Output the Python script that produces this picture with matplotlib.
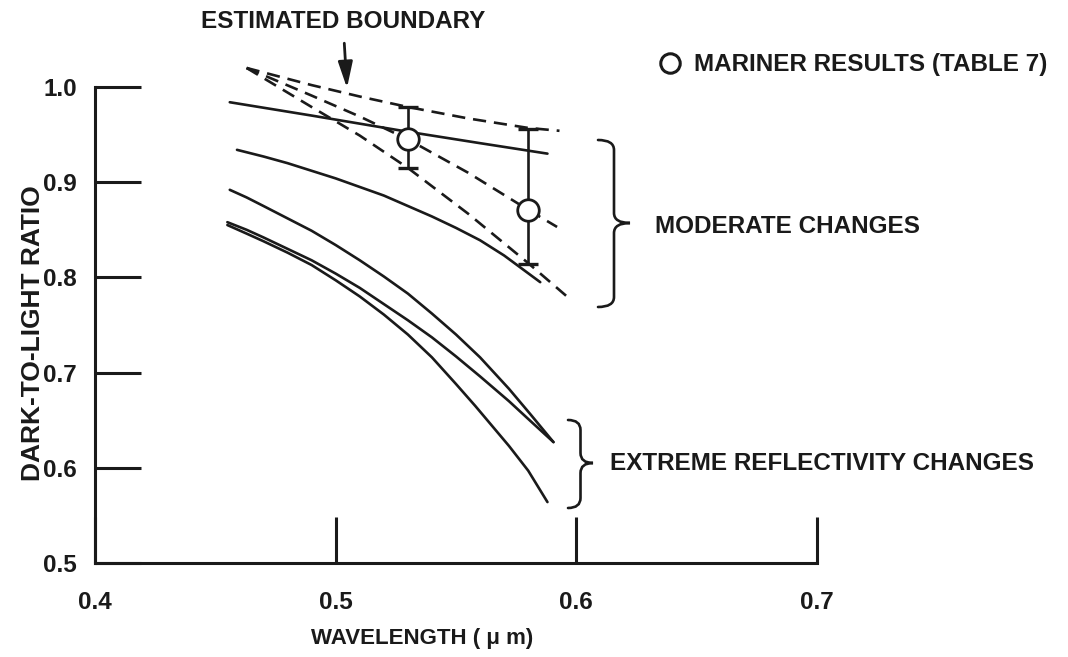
import matplotlib
matplotlib.use("Agg")
import matplotlib.pyplot as plt
from matplotlib.path import Path
from matplotlib.patches import PathPatch
from matplotlib.lines import Line2D

plt.rcParams['font.family'] = ['Liberation Sans', 'DejaVu Sans']
plt.rcParams['font.weight'] = 'bold'

# ---- data (wavelength in micrometres, dark-to-light ratio) ----
wl_bound_upper = [0.463, 0.49, 0.51, 0.53, 0.555, 0.58, 0.593]
r_bound_upper = [1.020, 1.002, 0.990, 0.979, 0.967, 0.957, 0.954]

wl_bound_mid = [0.463, 0.49, 0.51, 0.53, 0.555, 0.58, 0.592]
r_bound_mid = [1.020, 0.991, 0.969, 0.945, 0.910, 0.871, 0.853]

wl_bound_lower = [0.463, 0.49, 0.51, 0.53, 0.555, 0.58, 0.597]
r_bound_lower = [1.020, 0.979, 0.949, 0.915, 0.867, 0.815, 0.778]

wl_mod_top = [0.456, 0.49, 0.53, 0.56, 0.588]
r_mod_top = [0.984, 0.970, 0.953, 0.941, 0.930]

wl_mod_low = [0.459, 0.47, 0.48, 0.49, 0.50, 0.51, 0.52, 0.53, 0.54, 0.55,
              0.56, 0.57, 0.585]
r_mod_low = [0.934, 0.927, 0.920, 0.912, 0.904, 0.895, 0.886, 0.875, 0.864,
             0.852, 0.839, 0.823, 0.795]

wl_ext1 = [0.456, 0.463, 0.47, 0.48, 0.49, 0.50, 0.51, 0.52, 0.53, 0.54,
           0.55, 0.56, 0.572, 0.581, 0.5905]
r_ext1 = [0.892, 0.884, 0.875, 0.862, 0.849, 0.834, 0.818, 0.801, 0.783,
          0.762, 0.740, 0.716, 0.683, 0.656, 0.627]

wl_ext2 = [0.455, 0.463, 0.47, 0.48, 0.49, 0.50, 0.51, 0.52, 0.53, 0.54,
           0.55, 0.56, 0.572, 0.581, 0.5905]
r_ext2 = [0.858, 0.850, 0.842, 0.830, 0.818, 0.804, 0.789, 0.772, 0.755,
          0.737, 0.717, 0.696, 0.670, 0.649, 0.627]

wl_ext3 = [0.455, 0.463, 0.47, 0.48, 0.49, 0.50, 0.51, 0.52, 0.53, 0.54,
           0.55, 0.558, 0.565, 0.572, 0.58, 0.588]
r_ext3 = [0.855, 0.846, 0.838, 0.826, 0.813, 0.797, 0.780, 0.761, 0.740,
          0.716, 0.688, 0.665, 0.644, 0.623, 0.597, 0.564]

wl_mariner = [0.53, 0.58]
r_mariner = [0.945, 0.871]
r_mariner_low = [0.915, 0.814]
r_mariner_high = [0.979, 0.956]

xticks = [0.4, 0.5, 0.6, 0.7]
xtick_labels = ['0.4', '0.5', '0.6', '0.7']
yticks = [0.5, 0.6, 0.7, 0.8, 0.9, 1.0]
ytick_labels = ['0.5', '0.6', '0.7', '0.8', '0.9', '1.0']

# ---- figure ----
W, H = 1068, 657
FS = 17.5
fig = plt.figure(figsize=(W / 100, H / 100), dpi=100)
ax = fig.add_axes([95 / W, (H - 563) / H, 722 / W, 476 / H])
ax.set_xlim(0.4, 0.7)
ax.set_ylim(0.5, 1.0)

LW = 1.9
ink = '#1a1a1a'
dash = (0, (5, 3))

for x, y in [(wl_bound_upper, r_bound_upper), (wl_bound_mid, r_bound_mid),
             (wl_bound_lower, r_bound_lower)]:
    ax.plot(x, y, color=ink, lw=LW, linestyle=dash, clip_on=False)

for x, y in [(wl_mod_top, r_mod_top), (wl_mod_low, r_mod_low),
             (wl_ext1, r_ext1), (wl_ext2, r_ext2), (wl_ext3, r_ext3)]:
    ax.plot(x, y, color=ink, lw=LW, solid_capstyle='round',
            solid_joinstyle='round', clip_on=False)

yerr = [[m - l for m, l in zip(r_mariner, r_mariner_low)],
        [h - m for m, h in zip(r_mariner, r_mariner_high)]]
ax.errorbar(wl_mariner, r_mariner, yerr=yerr, fmt='none', ecolor=ink,
            elinewidth=LW, capsize=7, capthick=2.4, clip_on=False, zorder=3)
ax.plot(wl_mariner, r_mariner, 'o', ms=15.5, mfc='white', mec=ink, mew=2.0,
        zorder=4, clip_on=False)

# axes styling
for s in ['top', 'right']:
    ax.spines[s].set_visible(False)
for s in ['left', 'bottom']:
    ax.spines[s].set_linewidth(2.2)
    ax.spines[s].set_color(ink)
ax.set_xticks(xticks)
ax.set_xticklabels(xtick_labels)
ax.set_yticks(yticks)
ax.set_yticklabels(ytick_labels)
ax.tick_params(axis='both', direction='in', length=33, width=2.2, color=ink,
               labelsize=FS, labelcolor=ink)
ax.tick_params(axis='x', pad=20)
ax.tick_params(axis='y', pad=13)

ax.set_xlabel('WAVELENGTH ( \u03bc m)', fontsize=16, fontweight='bold',
              color=ink)
ax.set_ylabel('DARK-TO-LIGHT RATIO', fontsize=19, fontweight='bold',
              color=ink)
ax.xaxis.set_label_coords((422 - 95) / 722, -(628 - 563) / 476)
ax.yaxis.set_label_coords(-(95 - 45) / 722, (563 - 333) / 476)


def px(xp, yp):
    return (xp / W, 1 - yp / H)


# braces (figure pixel coordinates)
def brace(x0, x1, ytop, ybot, ytip):
    xm = (x0 + x1) / 2
    d = 10
    verts = [px(x0, ytop), px(xm, ytop), px(xm, ytop + d),
             px(xm, ytip - d), px(xm, ytip), px(x1, ytip),
             px(xm, ytip), px(xm, ytip + d),
             px(xm, ybot - d), px(xm, ybot), px(x0, ybot)]
    codes = [Path.MOVETO, Path.CURVE3, Path.CURVE3,
             Path.LINETO, Path.CURVE3, Path.CURVE3,
             Path.CURVE3, Path.CURVE3,
             Path.LINETO, Path.CURVE3, Path.CURVE3]
    p = PathPatch(Path(verts, codes), transform=fig.transFigure, fill=False,
                  lw=LW, edgecolor=ink, capstyle='round')
    fig.add_artist(p)


brace(598, 630, 140, 307, 223)
brace(568, 593, 420, 508, 463)

fig.text(655 / W, 1 - 227 / H, 'MODERATE CHANGES', fontsize=FS,
         fontweight='bold', va='center', ha='left', color=ink)
fig.text(610 / W, 1 - 463 / H, 'EXTREME REFLECTIVITY CHANGES', fontsize=FS,
         fontweight='bold', va='center', ha='left', color=ink)

# legend-like annotation
fig.add_artist(Line2D([670 / W], [1 - 63 / H], marker='o', ms=14, mfc='white',
                      mec=ink, mew=2.2, transform=fig.transFigure))
fig.text(694 / W, 1 - 64 / H, 'MARINER RESULTS (TABLE 7)', fontsize=FS,
         fontweight='bold', va='center', ha='left', color=ink)

# estimated boundary label and arrow
ax.annotate('ESTIMATED BOUNDARY', xy=(347 / W, 1 - 88 / H),
            xycoords='figure fraction',
            xytext=(343 / W, 1 - 22 / H), textcoords='figure fraction',
            ha='center', va='center', fontsize=FS, fontweight='bold',
            color=ink,
            arrowprops=dict(arrowstyle='-|>,head_length=0.9,head_width=0.25',
                            lw=2.0, color=ink, shrinkA=5, shrinkB=0))

fig.savefig('out.png', dpi=100, facecolor='white')
